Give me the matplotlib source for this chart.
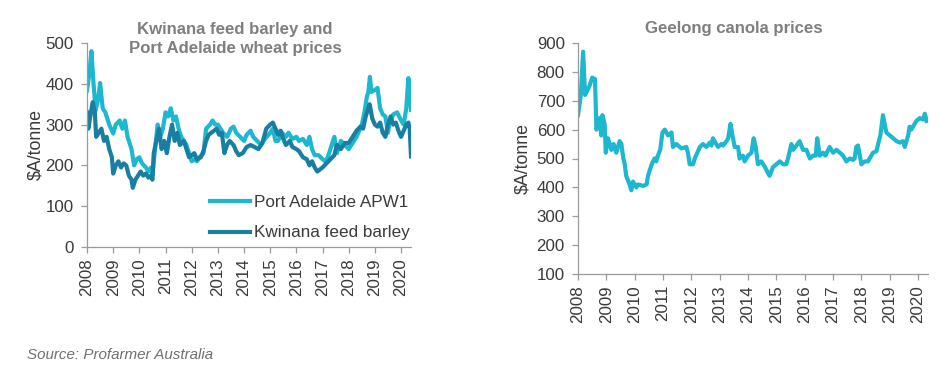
import matplotlib
matplotlib.use("Agg")
import matplotlib.pyplot as plt

plt.rcParams['font.family'] = ['Liberation Sans', 'DejaVu Sans']

# ---- data (decimal years, $A/tonne) ----
wheat_t = [2008.0, 2008.08, 2008.17, 2008.25, 2008.33, 2008.42, 2008.5, 2008.6, 2008.7, 2008.85,
           2009.0, 2009.1, 2009.25, 2009.35, 2009.45, 2009.55, 2009.7, 2009.8, 2009.9, 2010.0,
           2010.1, 2010.25, 2010.35, 2010.45, 2010.5, 2010.6, 2010.7, 2010.8, 2010.9, 2011.0,
           2011.1, 2011.2, 2011.3, 2011.4, 2011.5, 2011.6, 2011.8, 2011.9, 2012.0, 2012.1,
           2012.2, 2012.3, 2012.45, 2012.55, 2012.7, 2012.8, 2012.9, 2013.0, 2013.1, 2013.2,
           2013.35, 2013.5, 2013.6, 2013.7, 2013.85, 2014.0, 2014.1, 2014.25, 2014.35, 2014.5,
           2014.65, 2014.8, 2015.0, 2015.1, 2015.2, 2015.3, 2015.45, 2015.6, 2015.7, 2015.85,
           2016.0, 2016.1, 2016.25, 2016.4, 2016.5, 2016.6, 2016.7, 2016.85, 2017.0, 2017.1,
           2017.2, 2017.35, 2017.45, 2017.55, 2017.7, 2017.85, 2018.0, 2018.15, 2018.3, 2018.5,
           2018.6, 2018.7, 2018.75, 2018.81, 2018.87, 2019.0, 2019.1, 2019.2, 2019.3, 2019.4,
           2019.5, 2019.55, 2019.7, 2019.85, 2020.0, 2020.1, 2020.2, 2020.28, 2020.33, 2020.38]
wheat_v = [384, 420, 480, 400, 335, 360, 402, 340, 330, 300,
           278, 300, 310, 290, 310, 270, 240, 200, 215, 220,
           205, 195, 185, 195, 175, 240, 300, 270, 290, 330,
           320, 340, 310, 320, 290, 270, 250, 230, 210, 215,
           210, 220, 230, 290, 300, 310, 300, 300, 290, 280,
           270, 290, 295, 280, 270, 260, 275, 285, 270, 260,
           250, 265, 280, 290, 260, 260, 280, 270, 280, 265,
           270, 260, 265, 250, 270, 240, 225, 225, 215, 210,
           220, 250, 270, 230, 260, 250, 240, 255, 270, 300,
           330, 370, 380, 417, 380, 385, 390, 340, 325, 320,
           280, 300, 325, 330, 310, 300, 340, 414, 370, 336]

barley_t = [2008.0, 2008.05, 2008.15, 2008.22, 2008.3, 2008.35, 2008.45, 2008.55, 2008.65, 2008.75,
            2008.85, 2008.95, 2009.0, 2009.1, 2009.2, 2009.3, 2009.4, 2009.5, 2009.6, 2009.7,
            2009.75, 2009.85, 2009.95, 2010.05, 2010.15, 2010.25, 2010.35, 2010.45, 2010.5, 2010.55,
            2010.65, 2010.75, 2010.85, 2010.95, 2011.05, 2011.15, 2011.25, 2011.35, 2011.45, 2011.55,
            2011.7, 2011.8, 2011.9, 2012.0, 2012.1, 2012.2, 2012.35, 2012.45, 2012.55, 2012.65,
            2012.75, 2012.85, 2012.95, 2013.05, 2013.15, 2013.25, 2013.35, 2013.45, 2013.6, 2013.7,
            2013.8, 2013.95, 2014.1, 2014.25, 2014.4, 2014.55, 2014.7, 2014.85, 2015.0, 2015.1,
            2015.2, 2015.3, 2015.4, 2015.5, 2015.6, 2015.75, 2015.85, 2016.0, 2016.1, 2016.25,
            2016.4, 2016.5, 2016.6, 2016.7, 2016.8, 2016.9, 2017.0, 2017.15, 2017.3, 2017.45,
            2017.55, 2017.7, 2017.85, 2018.0, 2018.15, 2018.3, 2018.45, 2018.55, 2018.65, 2018.75,
            2018.8, 2018.9, 2019.0, 2019.1, 2019.2, 2019.3, 2019.4, 2019.5, 2019.6, 2019.7,
            2019.8, 2019.9, 2020.0, 2020.1, 2020.2, 2020.28, 2020.33, 2020.38]
barley_v = [330, 290, 330, 355, 330, 270, 280, 290, 260, 270,
            240, 220, 180, 200, 210, 195, 205, 200, 175, 165,
            145, 165, 175, 185, 175, 180, 170, 175, 165, 230,
            260, 290, 240, 260, 230, 270, 300, 260, 280, 250,
            260, 240, 220, 225, 230, 215, 220, 235, 260, 275,
            280, 285, 290, 275, 280, 230, 250, 260, 250, 235,
            225, 230, 245, 250, 245, 240, 255, 290, 300, 305,
            290, 275, 285, 265, 250, 260, 245, 240, 235, 220,
            215, 200, 210, 195, 185, 190, 195, 205, 215, 225,
            250, 240, 255, 255, 270, 285, 295, 290, 320, 340,
            350, 315, 300, 295, 305, 280, 270, 300, 320, 300,
            305, 285, 270, 285, 300, 305, 290, 222]

canola_t = [2008.0, 2008.1, 2008.18, 2008.25, 2008.35, 2008.4, 2008.5, 2008.6, 2008.65, 2008.76,
            2008.82, 2008.86, 2008.94, 2008.98, 2009.06, 2009.18, 2009.26, 2009.35, 2009.47, 2009.53,
            2009.6, 2009.65, 2009.7, 2009.82, 2009.88, 2009.94, 2010.06, 2010.12, 2010.3, 2010.42,
            2010.47, 2010.6, 2010.7, 2010.76, 2010.82, 2010.9, 2010.98, 2011.06, 2011.18, 2011.3,
            2011.35, 2011.47, 2011.65, 2011.82, 2011.88, 2011.94, 2012.06, 2012.12, 2012.3, 2012.41,
            2012.53, 2012.65, 2012.71, 2012.76, 2012.88, 2012.94, 2013.06, 2013.12, 2013.24, 2013.3,
            2013.38, 2013.45, 2013.53, 2013.65, 2013.7, 2013.82, 2013.88, 2014.0, 2014.12, 2014.18,
            2014.2, 2014.27, 2014.35, 2014.47, 2014.6, 2014.7, 2014.76, 2014.88, 2015.0, 2015.12,
            2015.24, 2015.35, 2015.41, 2015.53, 2015.59, 2015.71, 2015.82, 2015.94, 2016.06, 2016.18,
            2016.29, 2016.39, 2016.44, 2016.53, 2016.65, 2016.73, 2016.88, 2017.0, 2017.12, 2017.24,
            2017.35, 2017.47, 2017.59, 2017.7, 2017.76, 2017.82, 2017.88, 2018.0, 2018.12, 2018.24,
            2018.29, 2018.41, 2018.53, 2018.59, 2018.67, 2018.76, 2018.82, 2018.88, 2019.0, 2019.12,
            2019.24, 2019.35, 2019.47, 2019.53, 2019.59, 2019.65, 2019.7, 2019.76, 2019.82, 2019.94,
            2020.06, 2020.18, 2020.24, 2020.3]
canola_v = [650, 720, 870, 720, 740, 750, 780, 775, 600, 640,
            580, 650, 620, 520, 570, 530, 550, 520, 560, 550,
            500, 480, 440, 410, 390, 420, 400, 410, 405, 410,
            440, 480, 500, 490, 510, 530, 590, 600, 580, 590,
            540, 550, 535, 540, 520, 480, 480, 500, 540, 550,
            540, 555, 545, 570, 550, 540, 550, 545, 560, 570,
            620, 580, 540, 540, 500, 510, 490, 510, 520, 560,
            570, 540, 480, 490, 470, 450, 440, 470, 480, 490,
            480, 480, 500, 550, 530, 545, 560, 530, 530, 500,
            510, 510, 570, 510, 520, 510, 540, 520, 530, 520,
            510, 490, 500, 495, 500, 540, 545, 480, 490, 490,
            500, 520, 525, 550, 580, 650, 620, 590, 580, 570,
            560, 555, 560, 540, 560, 580, 610, 600, 610, 630,
            640, 635, 655, 630]

years = list(range(2008, 2021))

WHEAT_C = '#1DB7D0'
BARLEY_C = '#197FA2'
CANOLA_C = '#1DB7D0'
TXT = '#3a3a3a'
TITLE_C = '#7f7f7f'
AX_C = '#9a9a9a'
LW = 3.0

fig = plt.figure(figsize=(9.52, 3.71), dpi=100)
fig.patch.set_facecolor('white')

ax1 = fig.add_axes([87/952, 1-247/371, (411-87)/952, (247-43)/371])
ax2 = fig.add_axes([578/952, 1-274/371, (928-578)/952, (274-43)/371])


def style(ax, xlab):
    for s in ['top', 'right']:
        ax.spines[s].set_visible(False)
    for s in ['left', 'bottom']:
        ax.spines[s].set_color(AX_C)
        ax.spines[s].set_linewidth(0.9)
    ax.tick_params(axis='both', colors=AX_C, labelcolor=TXT, labelsize=12.2, length=4.5, width=0.9)
    ax.tick_params(axis='x', rotation=90, pad=3.5)
    ax.tick_params(axis='y', pad=5)
    ax.set_xticks(years)
    ax.set_xticklabels([str(y) for y in years])
    ax.set_ylabel('$A/tonne', fontsize=12.8, color=TXT)
    ax.yaxis.set_label_coords(xlab, 0.5)


ax1.plot(wheat_t, wheat_v, color=WHEAT_C, lw=LW, label='Port Adelaide APW1', solid_joinstyle='round')
ax1.plot(barley_t, barley_v, color=BARLEY_C, lw=LW, label='Kwinana feed barley', solid_joinstyle='round')
ax1.set_xlim(2008, 2020.38)
ax1.set_ylim(0, 500)
ax1.set_yticks([0, 100, 200, 300, 400, 500])
style(ax1, -0.133)
leg = ax1.legend(loc='lower right', bbox_to_anchor=(1.022, -0.01), frameon=False, fontsize=12.3,
                 handlelength=2.35, handletextpad=0.2, labelspacing=0.9, borderaxespad=0.1)
for t in leg.get_texts():
    t.set_color(TXT)

ax2.plot(canola_t, canola_v, color=CANOLA_C, lw=LW, solid_joinstyle='round')
ax2.set_xlim(2008, 2020.35)
ax2.set_ylim(100, 900)
ax2.set_yticks(list(range(100, 1000, 100)))
style(ax2, -0.134)

fig.text(235/952, 1-39/371, 'Kwinana feed barley and\nPort Adelaide wheat prices', ha='center', va='center',
         fontsize=12.1, fontweight='bold', color=TITLE_C, linespacing=1.4)
fig.text(734/952, 1-29/371, 'Geelong canola prices', ha='center', va='center',
         fontsize=12.1, fontweight='bold', color=TITLE_C)
fig.text(27/952, 1-355/371, 'Source: Profarmer Australia', ha='left', va='center',
         fontsize=10.9, style='italic', color='#6f6f6f')

fig.savefig('out.png', dpi=100, facecolor='white')
